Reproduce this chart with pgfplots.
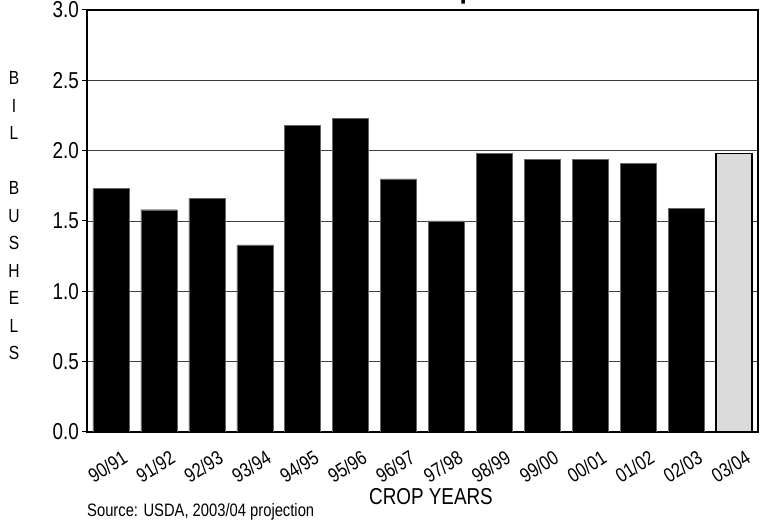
\documentclass[border=0pt]{standalone}
\usepackage{fontspec}
\setmainfont{Liberation Sans}[FakeStretch=0.82]
\usepackage{pgfplots}
\pgfplotsset{compat=1.18}
\begin{document}
\begin{tikzpicture}
\begin{axis}[
  at={(0pt,0pt)}, anchor=south west,
  scale only axis, width=671pt, height=422pt,
  xmin=-0.5, xmax=13.5, ymin=0, ymax=3,
  ytick={0,0.5,1,1.5,2,2.5,3},
  yticklabel style={/pgf/number format/.cd, fixed, fixed zerofill, precision=1, /tikz/.cd, font=\fontsize{23}{26}\selectfont, inner sep=1pt, xshift=-2pt},
  /pgf/number format/assume math mode=true,
  xtick={0,...,13},
  xticklabels={90/91,91/92,92/93,93/94,94/95,95/96,96/97,97/98,98/99,99/00,00/01,01/02,02/03,03/04},
  xticklabel style={rotate=32, anchor=north east, font=\fontsize{20}{22}\selectfont, inner sep=1pt, xshift=3pt, yshift=-15pt},
  xtick style={draw=none},
  ytick pos=left, tick align=outside, major tick length=5pt,
  ytick style={black, line width=1pt},
  ymajorgrids, grid style={black!75, line width=0.9pt},
  axis line style={black, line width=1.3pt},
  ybar, bar width=36pt,
]
\addplot[fill=black, draw=black!60, bar shift=0pt] coordinates {
 (0,1.73) (1,1.58) (2,1.66) (3,1.33) (4,2.18) (5,2.23) (6,1.80)
 (7,1.50) (8,1.98) (9,1.94) (10,1.94) (11,1.91) (12,1.59)};
\addplot[fill=black!14, draw=black, line width=1.2pt, bar shift=0pt] coordinates {(13,1.98)};
\end{axis}
\node[anchor=base, font=\bfseries\fontsize{32}{36}\selectfont] at (326pt,434pt) {U.S. Corn Exports};
\node[align=center, font=\fontsize{19}{27.5}\selectfont, inner sep=0pt] at (-73pt,216pt) {B\\I\\L\\\mbox{}\\B\\U\\S\\H\\E\\L\\S};
\node[font=\fontsize{23}{26}\selectfont] at (344pt,-65pt) {CROP YEARS};
\node[anchor=west, font=\fontsize{18}{20}\selectfont, inner sep=0pt] at (0pt,-80pt) {Source: USDA, 2003/04 projection};
\pgfresetboundingbox
\useasboundingbox (-87pt,-97pt) rectangle (676pt,432pt);
\end{tikzpicture}
\end{document}
